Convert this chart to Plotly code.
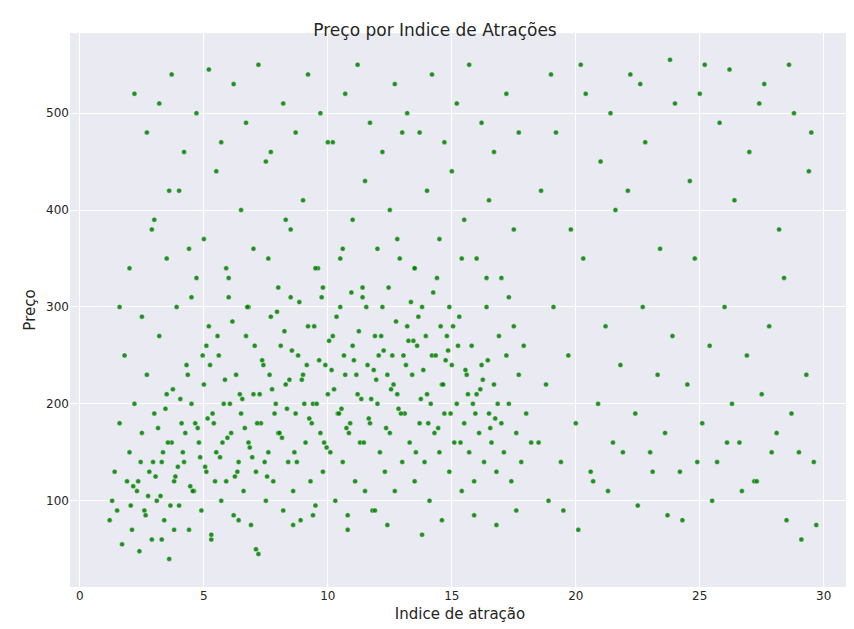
import plotly.graph_objects as go

# Attraction index (x) and price (y), hand-read samples of the point cloud
indice = [
 1.2,1.3,1.4,1.5,1.6,1.7,1.8,1.9,2.0,2.1,2.2,2.3,2.4,2.5,2.6,2.7,2.8,2.9,3.0,3.1,3.2,3.3,3.4,3.5,3.6,3.7,3.8,3.9,4.0,4.1,
 4.2,4.3,4.4,4.5,4.6,4.7,4.8,4.9,5.0,5.1,5.2,5.3,5.4,5.5,5.6,5.7,5.8,5.9,6.0,6.1,6.2,6.3,6.4,6.5,6.6,6.7,6.8,6.9,7.0,7.1,
 7.2,7.3,7.4,7.5,7.6,7.7,7.8,7.9,8.0,8.1,8.2,8.3,8.4,8.5,8.6,8.7,8.8,8.9,9.0,9.1,9.2,9.3,9.4,9.5,9.6,9.7,9.8,9.9,10.0,10.1,
 10.2,10.3,10.4,10.5,10.6,10.7,10.8,10.9,11.0,11.1,11.2,11.3,11.4,11.5,11.6,11.7,11.8,11.9,12.0,12.1,12.2,12.3,12.4,12.5,12.6,12.7,12.8,12.9,13.0,13.1,
 13.2,13.3,13.4,13.5,13.6,13.7,13.8,13.9,14.0,14.1,14.2,14.3,14.4,14.5,14.6,14.7,14.8,14.9,15.0,15.1,15.2,15.3,15.4,15.5,15.6,15.7,15.8,15.9,16.0,16.1,
 16.2,16.3,16.4,16.5,16.6,16.7,16.8,16.9,17.0,17.1,17.2,17.3,17.4,17.5,17.6,17.7,17.8,17.9,18.0,18.2,
 2.0,2.5,3.0,3.5,4.0,4.5,5.0,5.5,6.0,6.5,7.0,7.5,8.0,8.5,9.0,9.5,10.0,10.5,11.0,11.5,12.0,12.5,13.0,13.5,14.0,14.5,15.0,15.5,16.0,16.5,17.0,17.5,
 2.2,2.7,3.2,3.7,4.2,4.7,5.2,5.7,6.2,6.7,7.2,7.7,8.2,8.7,9.2,9.7,10.2,10.7,11.2,11.7,12.2,12.7,13.2,13.7,14.2,14.7,15.2,15.7,16.2,16.7,17.2,17.7,
 3.3,3.8,5.3,6.4,7.1,8.6,9.4,10.8,11.9,12.4,13.8,14.6,15.9,16.8,17.6,
 1.6,2.9,3.6,4.4,5.1,5.9,6.8,7.6,8.3,9.8,10.6,11.4,12.8,13.5,14.9,15.4,16.4,17.3,
 18.5,18.8,19.1,19.4,19.7,20.0,20.3,20.6,20.9,21.2,21.5,21.8,22.1,22.4,22.7,23.0,23.3,23.6,23.9,24.2,24.5,24.8,25.1,25.4,25.7,26.0,26.3,26.6,26.9,27.2,27.5,27.8,28.1,28.4,28.7,29.0,29.3,29.6,
 18.6,19.2,19.8,20.4,21.0,21.6,22.2,22.8,23.4,24.0,24.6,25.2,25.8,26.4,27.0,27.6,28.2,28.8,29.4,
 18.9,19.5,20.1,20.7,21.3,21.9,22.5,23.1,23.7,24.3,24.9,25.5,26.1,26.7,27.3,27.9,28.5,29.1,29.7,
 19.0,20.2,21.4,22.6,23.8,25.0,26.2,27.4,28.6,29.5,
 # extra core samples
 2.05,2.35,2.65,2.95,3.25,3.55,3.85,4.15,4.45,4.75,5.05,5.35,5.65,5.95,6.25,6.55,6.85,7.15,7.45,7.75,8.05,8.35,8.65,8.95,9.25,9.55,9.85,10.15,10.45,10.75,
 11.05,11.35,11.65,11.95,12.25,12.55,12.85,13.15,13.45,13.75,14.05,14.35,14.65,14.95,15.25,15.55,15.85,16.15,16.45,16.75,
 2.15,2.45,2.75,3.05,3.35,3.65,3.95,4.25,4.55,4.85,5.15,5.45,5.75,6.05,6.35,6.65,6.95,7.25,7.55,7.85,8.15,8.45,8.75,9.05,9.35,9.65,9.95,10.25,10.55,10.85,
 11.15,11.45,11.75,12.05,12.35,12.65,12.95,13.25,13.55,13.85,14.15,14.45,14.75,15.05,15.35,15.65,15.95,16.25,16.55,16.85,
 3.15,3.45,3.75,4.05,4.35,4.65,4.95,5.25,5.55,5.85,6.15,6.45,6.75,7.05,7.35,7.65,7.95,8.25,8.55,8.85,9.15,9.45,9.75,10.05,10.35,10.65,10.95,11.25,11.55,11.85,
 12.15,12.45,12.75,13.05,13.35,13.65,13.95,14.25,14.55,14.85,
]
preco = [
 80,100,130,90,180,55,250,120,150,70,200,110,48,170,90,230,130,60,190,100,270,140,80,210,40,160,120,300,95,180,
 140,240,70,200,110,330,160,90,220,130,280,60,180,150,250,100,200,120,310,170,85,230,140,190,110,270,160,75,210,130,
 45,180,240,100,150,290,120,200,170,260,90,220,140,310,110,190,250,80,230,160,280,120,200,95,340,170,130,240,210,150,
 270,100,190,300,140,230,85,180,260,120,210,160,320,110,240,180,90,270,200,150,300,130,230,170,250,110,210,350,140,190,
 280,160,230,120,260,180,300,140,210,100,250,170,330,150,220,190,270,130,240,160,200,290,110,180,230,150,260,120,210,170,
 240,140,300,190,160,220,130,270,180,150,250,200,120,280,170,230,140,260,190,160,
 340,290,390,350,420,310,370,440,330,400,360,450,320,380,410,340,470,350,390,430,360,400,480,340,420,370,440,390,350,410,330,380,
 520,480,510,540,460,500,545,470,530,490,550,460,510,480,540,500,470,520,550,490,460,530,500,480,540,470,510,550,490,460,520,480,
 60,70,65,80,50,75,85,70,90,75,65,80,85,75,90,
 300,380,420,360,260,340,300,350,390,320,360,310,370,340,300,350,330,310,
 160,220,300,140,250,180,350,130,200,280,160,240,420,190,300,150,230,170,270,130,220,350,180,260,140,300,200,160,250,120,210,280,170,330,190,150,230,140,
 420,480,380,520,450,400,540,470,360,510,430,550,490,410,460,530,380,500,440,
 100,90,70,120,110,150,95,130,85,80,140,100,160,110,120,150,80,60,75,
 540,550,500,530,555,520,545,510,550,480,
 95,120,85,140,105,160,125,150,115,175,135,190,145,165,125,205,155,180,140,215,170,195,150,225,185,200,160,235,190,175,
 245,205,185,225,255,215,195,240,265,205,180,250,220,190,260,235,200,215,245,185,
 115,140,105,125,150,95,135,170,110,145,185,120,160,200,130,175,145,210,125,190,165,225,140,200,180,245,155,215,195,170,
 230,160,205,250,175,220,190,265,150,235,200,175,245,280,160,210,190,225,175,200,
 175,195,215,205,230,180,250,240,270,225,285,210,300,260,245,230,295,275,255,305,240,280,310,265,290,250,315,275,300,235,
 270,320,285,250,305,290,270,315,280,255,
]

fig = go.Figure(go.Scatter(
    x=indice, y=preco, mode="markers",
    marker=dict(color="#008000", size=5, opacity=0.85,
                line=dict(color="white", width=0.4)),
    showlegend=False,
))
fig.update_layout(
    width=854, height=629,
    paper_bgcolor="white", plot_bgcolor="#EAEAF2",
    margin=dict(l=62, r=12, t=25, b=50),
    title=dict(text="Preço por Indice de Atrações", x=0.5, xanchor="center",
               y=0.975, font=dict(family="DejaVu Sans", size=17, color="#262626")),
    font=dict(family="DejaVu Sans", size=12, color="#262626"),
)
fig.update_xaxes(range=[-0.4, 31.06], tickvals=[0,5,10,15,20,25,30],
                 gridcolor="white", zeroline=False, showline=False, ticks="",
                 title=dict(text="Indice de atração", font=dict(size=15), standoff=6))
fig.update_yaxes(range=[11, 582.7], tickvals=[100,200,300,400,500],
                 gridcolor="white", zeroline=False, showline=False, ticks="",
                 title=dict(text="Preço", font=dict(size=15), standoff=6))
fig.write_html("out.html")
